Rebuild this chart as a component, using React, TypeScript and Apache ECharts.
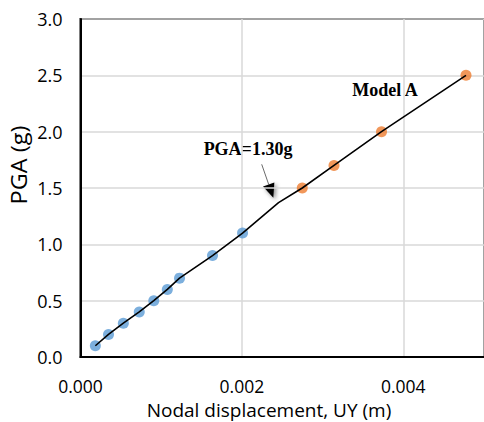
import React, { useEffect, useRef } from "react";
import * as echarts from "echarts";

// Model A: PGA (g) against nodal vertical displacement UY (m)
const elasticDisp = [0.000184, 0.000347, 0.000531, 0.000728, 0.000908, 0.001076, 0.001227, 0.001636, 0.002008];
const elasticPga = [0.1, 0.2, 0.3, 0.4, 0.5, 0.6, 0.7, 0.9, 1.1];
const inelasticDisp = [0.002748, 0.003141, 0.00373, 0.004777];
const inelasticPga = [1.5, 1.7, 2.0, 2.5];
// unmarked vertex of the response curve, where the slope changes
const yieldDisp = [0.002454];
const yieldPga = [1.37];

const xTicks = [0, 0.002, 0.004];
const yTicks = [0, 0.5, 1, 1.5, 2, 2.5, 3];

const SANS = "'Open Sans', 'Noto Sans', sans-serif";
const SERIF = "'Liberation Serif', 'DejaVu Serif', serif";

export default function App() {
  const ref = useRef<HTMLDivElement>(null);

  useEffect(() => {
    if (!ref.current) return;
    const chart = echarts.init(ref.current, undefined, { renderer: "svg" });

    const elastic = elasticDisp.map((x, i) => [x, elasticPga[i]]);
    const inelastic = inelasticDisp.map((x, i) => [x, inelasticPga[i]]);
    const curve = [...elastic, ...yieldDisp.map((x, i) => [x, yieldPga[i]]), ...inelastic].sort(
      (a, b) => a[0] - b[0]
    );

    // arrow pointing at the change of slope
    const tip = [273.3, 197.7];
    const tail = [261.7, 164.3];
    const dx = tip[0] - tail[0];
    const dy = tip[1] - tail[1];
    const len = Math.hypot(dx, dy);
    const ux = dx / len;
    const uy = dy / len;
    const headLen = 14;
    const headHalf = 6;
    const bx = tip[0] - ux * headLen;
    const by = tip[1] - uy * headLen;

    chart.setOption({
      animation: false,
      backgroundColor: "#ffffff",
      grid: {
        left: 80.5,
        top: 19,
        width: 407.5,
        height: 338,
        show: true,
        borderColor: "#000",
        borderWidth: 2,
        backgroundColor: "transparent",
      },
      xAxis: {
        type: "value",
        min: 0,
        max: 0.005,
        interval: 0.002,
        axisLine: { show: true, lineStyle: { color: "#000", width: 2 } },
        axisTick: { show: false },
        splitLine: { show: true, lineStyle: { color: "#d9d9d9", width: 1.5 } },
        axisLabel: {
          showMaxLabel: false,
          margin: 20,
          fontFamily: SANS,
          fontSize: 17.5,
          color: "#000",
          formatter: (v: number) => (xTicks.some((t) => Math.abs(t - v) < 1e-9) ? v.toFixed(3) : ""),
        },
      },
      yAxis: {
        type: "value",
        min: 0,
        max: 3,
        interval: 0.5,
        axisLine: { show: true, lineStyle: { color: "#000", width: 2 } },
        axisTick: { show: false },
        splitLine: { show: true, lineStyle: { color: "#d9d9d9", width: 1.5 } },
        axisLabel: {
          margin: 18,
          fontFamily: SANS,
          fontSize: 18,
          color: "#000",
          formatter: (v: number) => (yTicks.some((t) => Math.abs(t - v) < 1e-9) ? v.toFixed(1) : ""),
        },
      },
      series: [
        {
          type: "scatter",
          data: elastic,
          symbolSize: 11,
          itemStyle: { color: "#5b9bd5" },
          z: 2,
        },
        {
          type: "scatter",
          data: inelastic,
          symbolSize: 11,
          itemStyle: { color: "#ed7d31" },
          z: 2,
        },
        {
          type: "line",
          data: curve,
          symbol: "none",
          lineStyle: { color: "#000", width: 1.6 },
          z: 3,
        },
      ],
      graphic: [
        {
          type: "text",
          x: 18.5,
          y: 165,
          rotation: Math.PI / 2,
          scaleX: 1.12,
          style: {
            text: "PGA (g)",
            font: `21px ${SANS}`,
            fill: "#000",
            align: "center",
            verticalAlign: "middle",
          },
        },
        {
          type: "text",
          x: 269,
          y: 410,
          style: {
            text: "Nodal displacement, UY (m)",
            font: `19px ${SANS}`,
            fill: "#000",
            align: "center",
            verticalAlign: "middle",
          },
        },
        {
          type: "text",
          x: 248,
          y: 148.5,
          style: {
            text: "PGA=1.30g",
            font: `bold 18px ${SERIF}`,
            fill: "#000",
            align: "center",
            verticalAlign: "middle",
          },
        },
        {
          type: "text",
          x: 385,
          y: 90,
          style: {
            text: "Model A",
            font: `bold 18px ${SERIF}`,
            fill: "#000",
            align: "center",
            verticalAlign: "middle",
          },
        },
        {
          type: "line",
          shape: { x1: tail[0], y1: tail[1], x2: bx, y2: by },
          style: { stroke: "#444", lineWidth: 0.8 },
        },
        {
          type: "polygon",
          shape: {
            points: [
              [tip[0], tip[1]],
              [bx + uy * headHalf, by - ux * headHalf],
              [bx - uy * headHalf, by + ux * headHalf],
            ],
          },
          style: {
            fill: "#000",
            shadowBlur: 4,
            shadowOffsetX: 2,
            shadowOffsetY: 2,
            shadowColor: "rgba(0,0,0,0.45)",
          },
        },
      ],
    });

    return () => chart.dispose();
  }, []);

  return (
    <div
      ref={ref}
      style={{ position: "fixed", left: 0, top: 0, width: 484, height: 422 }}
    />
  );
}
